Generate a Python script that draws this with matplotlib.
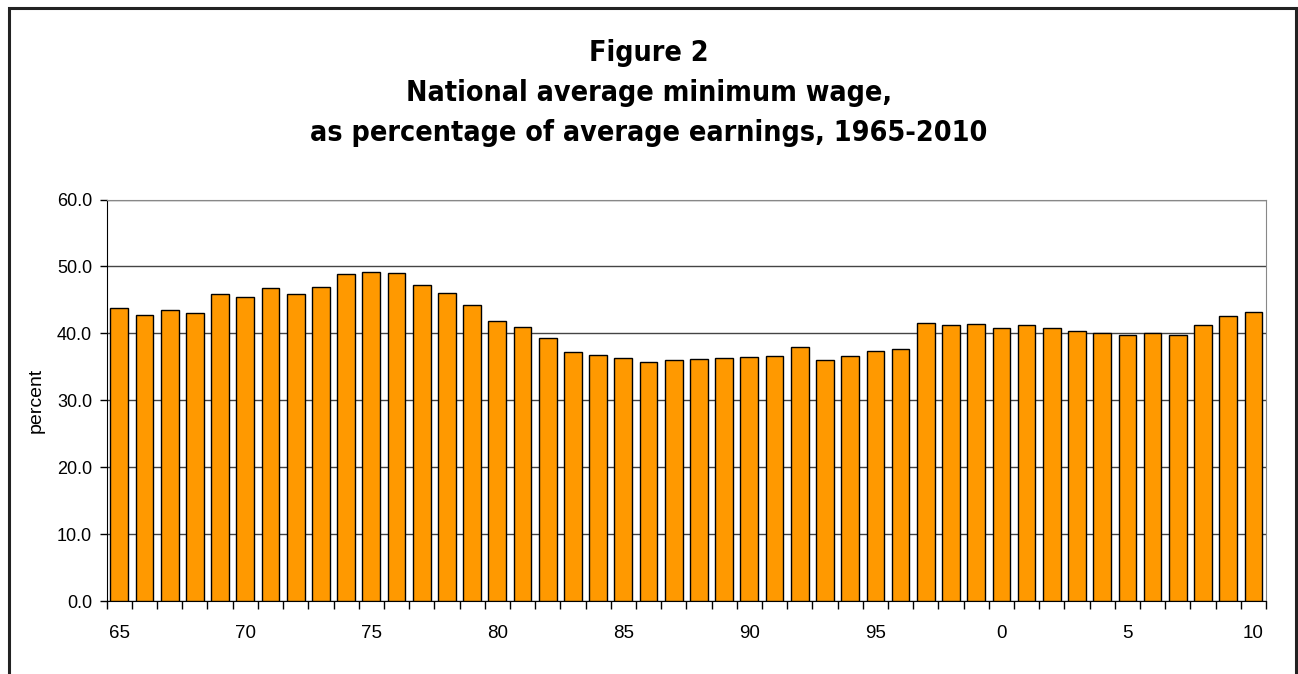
import matplotlib
matplotlib.use('Agg')
import matplotlib.pyplot as plt
from matplotlib.patches import Rectangle
import numpy as np

# Datos
years = list(range(1965, 2011))
percent = [43.8, 42.8, 43.5, 43.0, 45.9, 45.5, 46.8, 45.9, 47.0, 48.9,
           49.2, 49.0, 47.2, 46.0, 44.3, 41.9, 41.0, 39.3, 37.2, 36.8,
           36.3, 35.7, 36.0, 36.2, 36.3, 36.5, 36.7, 37.9, 36.0, 36.6,
           37.4, 37.7, 41.6, 41.2, 41.4, 40.8, 41.3, 40.8, 40.3, 40.1,
           39.7, 40.0, 39.8, 41.3, 42.6, 43.2]
tick_labels = [str(y % 100) for y in years]
title_lines = ['Figure 2',
               'National average minimum wage,',
               'as percentage of average earnings, 1965-2010']

plt.rcParams['font.family'] = ['Liberation Sans', 'DejaVu Sans']

fig = plt.figure(figsize=(12.98, 6.74), dpi=100)
ax = fig.add_axes([0.0822, 0.1079, 0.9753 - 0.0822, 0.704 - 0.1079])

x = np.arange(len(years))
ax.bar(x, percent, width=0.7, color='#FF9900', edgecolor='black', linewidth=1.0, zorder=3)

ax.set_xlim(-0.5, len(years) - 0.5)
ax.set_ylim(0, 60)
ax.set_yticks(np.arange(0, 61, 10))
ax.set_yticklabels([f'{v:.1f}' for v in np.arange(0, 61, 10)], fontsize=13)
ax.yaxis.grid(True, color='#444444', linewidth=1.0, zorder=0)

# etiquetas cada 5 años, marcas entre barras
label_pos = [i for i, y in enumerate(years) if y % 5 == 0]
ax.set_xticks(label_pos)
ax.set_xticklabels([tick_labels[i] for i in label_pos], fontsize=13.5)
ax.tick_params(axis='x', length=0, pad=17)
ax.set_xticks(np.arange(-0.5, len(years)), minor=True)
ax.tick_params(axis='x', which='minor', length=6, width=1, color='black', direction='out')
ax.tick_params(axis='y', length=5, width=1, direction='out', pad=5.5)

ax.set_ylabel('percent', fontsize=14, labelpad=9)

for side in ['top', 'right']:
    ax.spines[side].set_color('#888888')
for side in ['left', 'bottom']:
    ax.spines[side].set_color('black')

# Titulo, una linea a la vez
baselines = [61, 101, 141]
for line, yb in zip(title_lines, baselines):
    fig.text(0.5, 1 - yb / 674, line, ha='center', va='baseline', fontsize=20.5,
             fontweight='bold', fontstretch='condensed', family='DejaVu Sans')

# Marco exterior
fig.patches.append(Rectangle((9 / 1298, -0.1), (1296 - 9) / 1298, 1 - 8 / 674 + 0.1,
                             transform=fig.transFigure, fill=False,
                             edgecolor='#222222', linewidth=2.2))

plt.savefig('out.png', dpi=100)
